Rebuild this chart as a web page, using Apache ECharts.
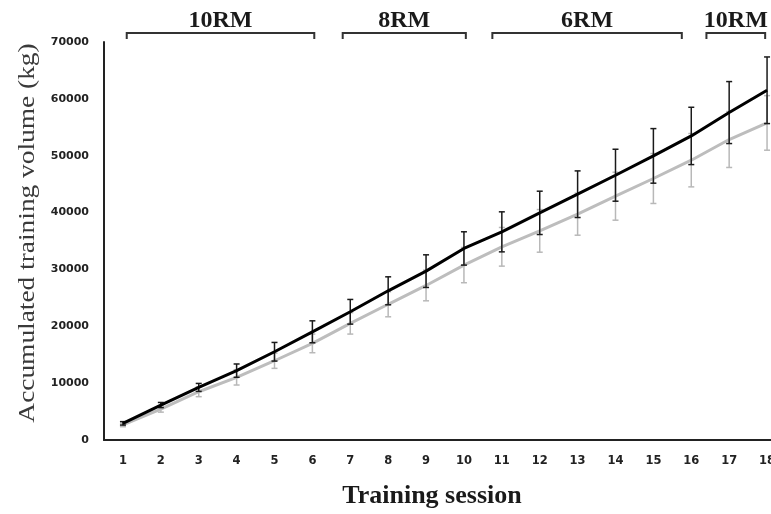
<!DOCTYPE html>
<html>
<head>
<meta charset="utf-8">
<script src="https://cdn.jsdelivr.net/npm/echarts@6/dist/echarts.min.js"></script>
<style>
html,body{margin:0;padding:0;background:#fff;overflow:hidden;width:771px;height:514px;}
#chart{width:786px;height:514px;}
</style>
</head>
<body>
<div id="chart"></div>
<script>
const sessions = ['1','2','3','4','5','6','7','8','9','10','11','12','13','14','15','16','17','18'];
const blackMean = [2930, 6150, 9250, 12200, 15520, 19030, 22550, 26240, 29700, 33690, 36610, 39950, 43230, 46570, 49970, 53480, 57590, 61510];
const blackSD   = [300, 450, 700, 1170, 1640, 1930, 2170, 2460, 2870, 2930, 3520, 3810, 4100, 4570, 4800, 5040, 5450, 5860];
const grayMean  = [2640, 5450, 8490, 11020, 13940, 16990, 20510, 23870, 27180, 30760, 33980, 36780, 39720, 42880, 45990, 49210, 52850, 55770];
const graySD    = [300, 550, 870, 1350, 1340, 1640, 1880, 2200, 2700, 3100, 3400, 3750, 3700, 4220, 4390, 4690, 4920, 4800];
const phaseLabels = ['10RM', '8RM', '6RM', '10RM'];
const phaseStart  = [1.1, 6.8, 10.75, 16.4];
const phaseEnd    = [6.05, 10.05, 15.75, 17.95];
const yMin = 0, yMax = 70000, yStep = 10000;

const chart = echarts.init(document.getElementById('chart'), null, {renderer: 'canvas'});

function errRender(color) {
  return function (params, api) {
    const i = api.value(0), m = api.value(1), sd = api.value(2);
    const top = api.coord([i, m + sd]);
    const bot = api.coord([i, m - sd]);
    const c = 3;
    const st = {stroke: color, lineWidth: 1.5};
    return {type: 'group', children: [
      {type: 'line', shape: {x1: top[0], y1: top[1], x2: bot[0], y2: bot[1]}, style: st},
      {type: 'line', shape: {x1: top[0] - c, y1: top[1], x2: top[0] + c, y2: top[1]}, style: st},
      {type: 'line', shape: {x1: bot[0] - c, y1: bot[1], x2: bot[0] + c, y2: bot[1]}, style: st}
    ]};
  };
}

function bracketRender(params, api) {
  const k = params.dataIndex;
  const p0 = api.coord([0, yMax]);
  const p1 = api.coord([1, yMax]);
  const step = p1[0] - p0[0];
  const x1 = p0[0] + (phaseStart[k] - 1) * step;
  const x2 = p0[0] + (phaseEnd[k] - 1) * step;
  const yl = p0[1] - 9, yt = p0[1] - 3, ytext = p0[1] - 21.5;
  const st = {stroke: '#333', lineWidth: 2};
  return {type: 'group', children: [
    {type: 'polyline', shape: {points: [[x1, yt], [x1, yl], [x2, yl], [x2, yt]]}, style: Object.assign({fill: null}, st)},
    {type: 'text', x: (x1 + x2) / 2, y: ytext, style: {text: phaseLabels[k], font: 'bold 24px "Liberation Serif"', fill: '#1a1a1a', align: 'center', verticalAlign: 'middle'}}
  ]};
}

const option = {
  backgroundColor: '#fff',
  animation: false,
  grid: {left: 104, right: 0, top: 42, bottom: 74, containLabel: false},
  xAxis: {
    type: 'category',
    data: sessions,
    boundaryGap: true,
    axisLine: {lineStyle: {color: '#222', width: 2}},
    axisTick: {show: false},
    axisLabel: {margin: 15, color: '#222', fontFamily: 'DejaVu Sans', fontWeight: 'bold', fontSize: 11.5, interval: 0},
    splitLine: {show: false}
  },
  yAxis: {
    type: 'value',
    min: yMin, max: yMax, interval: yStep,
    axisLine: {show: true, lineStyle: {color: '#222', width: 2}},
    axisTick: {show: false},
    axisLabel: {margin: 15, color: '#222', fontFamily: 'DejaVu Sans', fontWeight: 'bold', fontSize: 11,
      formatter: v => String(v)},
    splitLine: {show: false}
  },
  graphic: [
    {type: 'text', x: 28, y: 233, rotation: Math.PI / 2, scaleX: 1.19,
     style: {text: 'Accumulated training volume (kg)', font: '23px "Liberation Serif"', fill: '#3a3a3a', align: 'center', verticalAlign: 'middle'}},
    {type: 'text', x: 432, y: 496,
     style: {text: 'Training session', font: 'bold 26px "Liberation Serif"', fill: '#1a1a1a', align: 'center', verticalAlign: 'middle'}}
  ],
  series: [
    {type: 'custom', name: 'grayErr', renderItem: errRender('#b8b8b8'), clip: false, z: 2,
     data: sessions.map((s, i) => [i, grayMean[i], graySD[i]]), encode: {x: 0, y: 1}},
    {type: 'line', name: 'gray', data: grayMean, symbol: 'none', z: 3,
     lineStyle: {color: '#bdbdbd', width: 3}, itemStyle: {color: '#bdbdbd'}},
    {type: 'custom', name: 'blackErr', renderItem: errRender('#1a1a1a'), clip: false, z: 4,
     data: sessions.map((s, i) => [i, blackMean[i], blackSD[i]]), encode: {x: 0, y: 1}},
    {type: 'line', name: 'black', data: blackMean, symbol: 'none', z: 5,
     lineStyle: {color: '#000', width: 3}, itemStyle: {color: '#000'}},
    {type: 'custom', name: 'phases', renderItem: bracketRender, clip: false, z: 6,
     data: phaseLabels.map((p, i) => [0, 0]), encode: {x: 0, y: 1}}
  ]
};
chart.setOption(option);
</script>
</body>
</html>
